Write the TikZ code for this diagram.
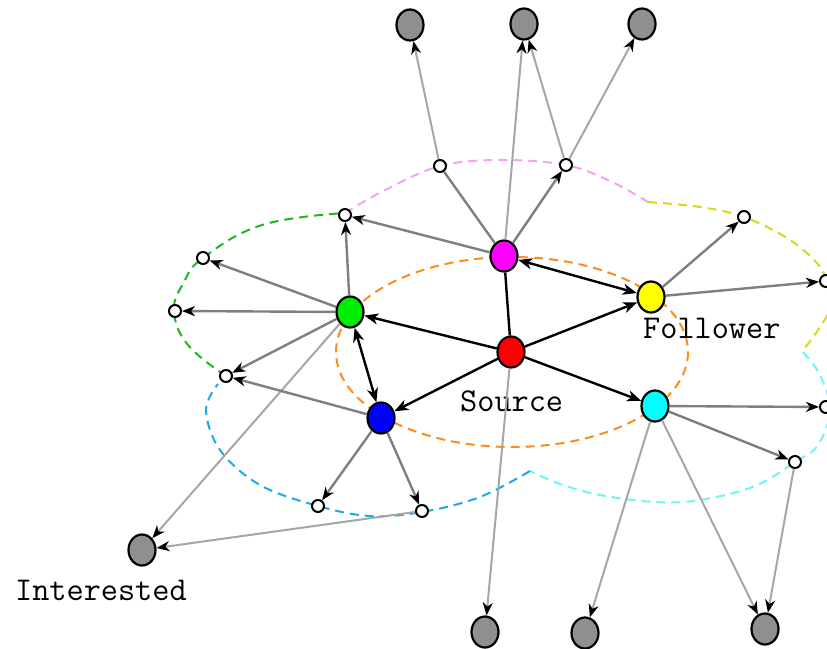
\documentclass[tikz,border=0pt]{standalone}
\usetikzlibrary{shapes.geometric,arrows.meta}
\definecolor{leafgray}{HTML}{8F8F8F}
\definecolor{edgegray}{HTML}{7F7F7F}
\definecolor{lightedge}{HTML}{A6A6A6}
\definecolor{cred}{HTML}{FF0000}
\definecolor{cmag}{HTML}{FF00FF}
\definecolor{cyel}{HTML}{FFFF00}
\definecolor{cgreen}{HTML}{00EE00}
\definecolor{cblue}{HTML}{0000FF}
\definecolor{ccyan}{HTML}{00FFFF}
\definecolor{corange}{HTML}{FF8C1A}
\definecolor{dgreen}{HTML}{1DB81D}
\definecolor{dblue}{HTML}{1AAAE6}
\definecolor{dcyan}{HTML}{6EF5F5}
\definecolor{dyellow}{HTML}{D8D818}
\definecolor{dpink}{HTML}{F5A3F0}
\begin{document}
\begin{tikzpicture}[x=1pt,y=-1pt,
  big/.style={ellipse,draw=black,line width=2.2pt,minimum width=27pt,minimum height=31pt,inner sep=0pt},
  leaf/.style={big,fill=leafgray},
  small/.style={circle,draw=black,fill=white,line width=2pt,minimum size=12pt,inner sep=0pt},
  strong/.style={line width=2.4pt,black,-{Stealth[length=14pt,width=11pt,inset=4pt]}},
  both/.style={line width=2.4pt,black,{Stealth[length=14pt,width=11pt,inset=4pt]}-{Stealth[length=14pt,width=11pt,inset=4pt]}},
  plain/.style={line width=2.4pt,black},
  mid/.style={line width=2.4pt,edgegray,-{Stealth[length=13pt,width=10pt,inset=4pt,color=black]}},
  midplain/.style={line width=2.4pt,edgegray},
  faint/.style={line width=2pt,lightedge,-{Stealth[length=13pt,width=10pt,inset=4pt,color=black]}},
  region/.style={line width=2pt,dash pattern=on 9pt off 6pt},
  lbl/.style={anchor=base west,inner sep=0pt,font=\ttfamily\fontsize{33.3}{36}\selectfont}
]
\useasboundingbox (0,0) rectangle (827,648);
\clip (0,0) rectangle (827,648);

% dashed regions
\draw[region,corange] (512,352) ellipse [x radius=176, y radius=95];
\draw[region,dpink] plot[smooth,tension=0.6] coordinates {(345,213) (385,190) (440,166) (500,160) (566,165) (612,182) (648,202)};
\draw[region,dyellow] plot[smooth,tension=0.6] coordinates {(648,202) (700,207) (744,217) (790,240) (822,270) (830,305) (818,330) (803,350)};
\draw[region,dcyan] plot[smooth,tension=0.6] coordinates {(803,352) (820,375) (830,410) (818,445) (795,462) (755,486) (700,500) (655,502) (600,495) (560,484) (530,471)};
\draw[region,dblue] plot[smooth,tension=0.6] coordinates {(530,471) (480,497) (422,512) (370,516) (318,506) (260,485) (220,450) (206,410) (218,384)};
\draw[region,dgreen] plot[smooth,tension=0.7] coordinates {(226,376) (188,345) (174,311) (184,282) (203,258) (262,225) (345,213)};

% nodes
\node[big,fill=cred] (src) at (511,352) {};
\node[big,fill=cmag] (mag) at (504,256) {};
\node[big,fill=cyel] (yel) at (651,297) {};
\node[big,fill=cgreen] (grn) at (350,312) {};
\node[big,fill=cblue] (blu) at (381,418) {};
\node[big,fill=ccyan] (cya) at (655,406) {};

\node[small] (p1) at (440,166) {};
\node[small] (p2) at (566,165) {};
\node[small] (g1) at (345,215) {};
\node[small] (g2) at (203,258) {};
\node[small] (g3) at (175,311) {};
\node[small] (g4) at (226,376) {};
\node[small] (b1) at (318,506) {};
\node[small] (b2) at (422,511) {};
\node[small] (y1) at (744,217) {};
\node[small] (y2) at (826,281) {};
\node[small] (c1) at (826,407) {};
\node[small] (c2) at (795,462) {};

\node[leaf] (t1) at (410,25) {};
\node[leaf] (t2) at (524,24) {};
\node[leaf] (t3) at (642,24) {};
\node[leaf] (int) at (142,550) {};
\node[leaf] (d1) at (485,632) {};
\node[leaf] (d2) at (585,633) {};
\node[leaf] (d3) at (765,629) {};

% labels
\node[lbl] (lsrc) at (460,411) {Source};
\node[lbl] (lfol) at (643,338) {Follower};
\node[lbl] (lint) at (15,600) {Interested};

% faint long edges
\draw[faint] (mag) -- (t2);
\draw[faint] (p1) -- (t1);
\draw[faint] (p2) -- (t2);
\draw[faint] (p2) -- (t3);
\draw[faint] (grn) -- (int);
\draw[faint] (b2) -- (int);
\draw[faint] (src) -- (d1);
\draw[faint] (cya) -- (d2);
\draw[faint] (cya) -- (d3);
\draw[faint] (c2) -- (d3);

% medium edges
\draw[midplain] (mag) -- (p1);
\draw[mid] (mag) -- (g1);
\draw[mid] (mag) -- (p2);
\draw[mid] (grn) -- (g1);
\draw[mid] (grn) -- (g2);
\draw[mid] (grn) -- (g3);
\draw[mid] (grn) -- (g4);
\draw[mid] (blu) -- (g4);
\draw[mid] (blu) -- (b1);
\draw[mid] (blu) -- (b2);
\draw[mid] (yel) -- (y1);
\draw[mid] (yel) -- (y2);
\draw[mid] (cya) -- (c1);
\draw[mid] (cya) -- (c2);

% strong edges
\draw[plain] (src) -- (mag);
\draw[strong] (src) -- (grn);
\draw[strong] (src) -- (blu);
\draw[strong] (src) -- (yel);
\draw[strong] (src) -- (cya);
\draw[both] (mag) -- (yel);
\draw[both] (grn) -- (blu);
\end{tikzpicture}
\end{document}
